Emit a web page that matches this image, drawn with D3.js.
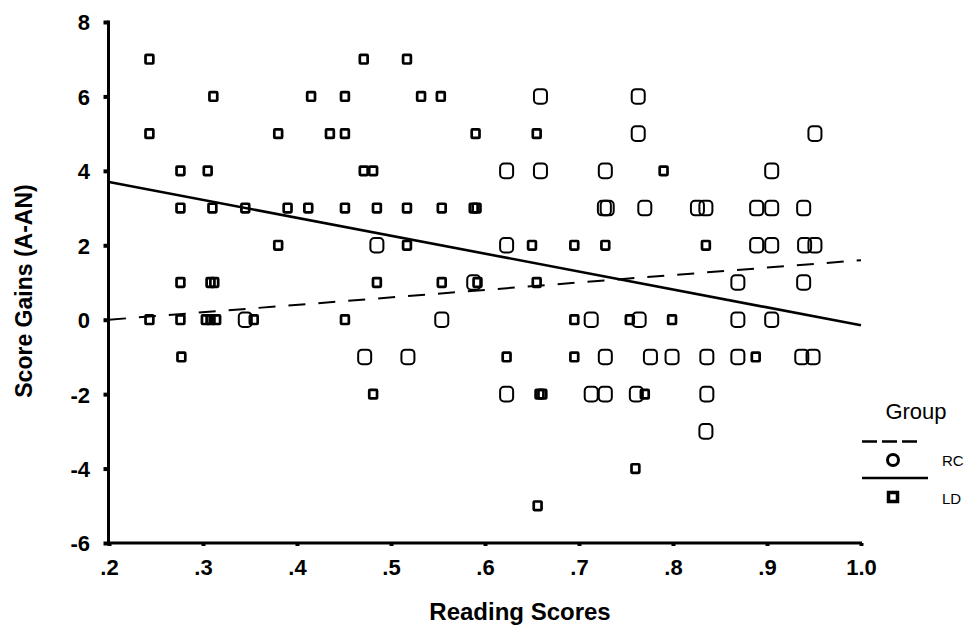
<!DOCTYPE html>
<html><head><meta charset="utf-8">
<script src="https://cdn.jsdelivr.net/npm/d3@7"></script>
<style>body{margin:0;background:#fff;} svg{display:block;}</style>
</head><body><svg id="c" width="975" height="625"></svg>
<script>
// ---- data ----
const xTickValues = [0.2,0.3,0.4,0.5,0.6,0.7,0.8,0.9,1.0];
const xTickLabels = [".2",".3",".4",".5",".6",".7",".8",".9","1.0"];
const yTickValues = [8,6,4,2,0,-2,-4,-6];

// LD group (small squares)
const ldScores = [
  0.243,0.471,0.517,
  0.311,0.415,0.451,0.532,0.553,
  0.243,0.380,0.435,0.451,0.590,0.655,
  0.276,0.305,0.471,0.481,0.790,
  0.276,0.310,0.345,0.390,0.412,0.451,0.485,0.517,0.554,0.588,0.591,
  0.380,0.517,0.650,0.695,0.728,0.835,
  0.276,0.308,0.312,0.485,0.554,0.592,0.655,
  0.243,0.276,0.303,0.308,0.314,0.354,0.451,0.695,0.754,0.799,
  0.277,0.623,0.695,0.888,
  0.481,0.658,0.661,0.770,
  0.760,
  0.656
];
const ldGains = [
  7,7,7,
  6,6,6,6,6,
  5,5,5,5,5,5,
  4,4,4,4,4,
  3,3,3,3,3,3,3,3,3,3,3,
  2,2,2,2,2,2,
  1,1,1,1,1,1,1,
  0,0,0,0,0,0,0,0,0,0,
  -1,-1,-1,-1,
  -2,-2,-2,-2,
  -4,
  -5
];
// RC group (larger rounded markers)
const rcScores = [
  0.659,0.763,
  0.763,0.951,
  0.623,0.659,0.728,0.905,
  0.727,0.730,0.770,0.826,0.835,0.889,0.905,0.939,
  0.485,0.623,0.889,0.905,0.940,0.951,
  0.588,0.869,0.939,
  0.345,0.554,0.713,0.764,0.869,0.905,
  0.472,0.518,0.728,0.776,0.799,0.836,0.869,0.937,0.949,
  0.623,0.713,0.728,0.761,0.836,
  0.835
];
const rcGains = [
  6,6,
  5,5,
  4,4,4,4,
  3,3,3,3,3,3,3,3,
  2,2,2,2,2,2,
  1,1,1,
  0,0,0,0,0,0,
  -1,-1,-1,-1,-1,-1,-1,-1,-1,
  -2,-2,-2,-2,-2,
  -3
];
// fit lines (value at x = 0.2 and x = 1.0)
const fitX = [0.2, 1.0];
const rcFit = [0.0, 1.6];    // dashed
const ldFit = [3.7, -0.15];  // solid
const groups = ["RC","LD"];

// ---- drawing ----
const svg = d3.select("#c");
const FONT = "'Liberation Sans', Arial, Helvetica, sans-serif";
const x = d3.scaleLinear().domain([0.2,1.0]).range([109,861]);
const y = d3.scaleLinear().domain([-6,8]).range([543,22]);

// fit lines
const line = d3.line().x(d=>x(d[0])).y(d=>y(d[1]));
svg.append("path").datum(fitX.map((v,i)=>[v, rcFit[i]]))
  .attr("d", line).attr("fill","none").attr("stroke","#000")
  .attr("stroke-width",2).attr("stroke-dasharray","17,13");
svg.append("path").datum(fitX.map((v,i)=>[v, ldFit[i]]))
  .attr("d", line).attr("fill","none").attr("stroke","#000")
  .attr("stroke-width",2.6);

// points
const ld = ldScores.map((v,i)=>({x:v, y:ldGains[i]}));
const rc = rcScores.map((v,i)=>({x:v, y:rcGains[i]}));
svg.append("g").selectAll("rect").data(rc).join("rect")
  .attr("x", d=>x(d.x)-6.5).attr("y", d=>y(d.y)-7.3)
  .attr("width",13).attr("height",14.6).attr("rx",4).attr("ry",4)
  .attr("fill","none").attr("stroke","#000").attr("stroke-width",2);
svg.append("g").selectAll("rect").data(ld).join("rect")
  .attr("x", d=>x(d.x)-3.9).attr("y", d=>y(d.y)-4.3)
  .attr("width",7.8).attr("height",8.6).attr("rx",0.8)
  .attr("fill","none").attr("stroke","#000").attr("stroke-width",2.7);

// axes
const gy = svg.append("g").attr("transform","translate(108.5,0)")
  .call(d3.axisLeft(y).tickValues(yTickValues).tickSize(5).tickPadding(13.5).tickFormat(d3.format("d")));
gy.select(".domain").attr("stroke","#000").attr("stroke-width",3).attr("d","M0,20.5V544.5");
gy.selectAll(".tick line").attr("stroke","#000").attr("stroke-width",4);
gy.selectAll(".tick text").attr("font-family",FONT).attr("font-size",22)
  .attr("font-weight","bold").attr("fill","#000").attr("dy","0.36em")
  .text(d=> d<0 ? "-"+Math.abs(d) : d);

const gx = svg.append("g").attr("transform","translate(0,543)")
  .call(d3.axisBottom(x).tickValues(xTickValues).tickSize(3).tickFormat((d,i)=>xTickLabels[i]));
gx.select(".domain").attr("stroke","#000").attr("stroke-width",3).attr("d","M107,0H862");
gx.selectAll(".tick line").attr("stroke","#000").attr("stroke-width",4);
gx.selectAll(".tick text").attr("font-family",FONT).attr("font-size",22)
  .attr("font-weight","bold").attr("fill","#000").attr("y",32).attr("dy",0);

// titles
svg.append("text").attr("transform","translate(32,291) rotate(-90)")
  .attr("text-anchor","middle").attr("font-family",FONT).attr("font-size",23)
  .attr("font-weight","bold").text("Score Gains (A-AN)");
svg.append("text").attr("x",520).attr("y",620)
  .attr("text-anchor","middle").attr("font-family",FONT).attr("font-size",24)
  .attr("font-weight","bold").text("Reading Scores");

// legend
const lg = svg.append("g");
lg.append("text").attr("x",916).attr("y",419).attr("text-anchor","middle")
  .attr("font-family",FONT).attr("font-size",22).text("Group");
lg.append("line").attr("x1",862).attr("x2",918).attr("y1",441.5).attr("y2",441.5)
  .attr("stroke","#000").attr("stroke-width",2.5).attr("stroke-dasharray","15,5");
lg.append("circle").attr("cx",893).attr("cy",460).attr("r",5.5)
  .attr("fill","none").attr("stroke","#000").attr("stroke-width",3);
lg.append("line").attr("x1",862).attr("x2",928).attr("y1",478).attr("y2",478)
  .attr("stroke","#000").attr("stroke-width",2.5);
lg.append("rect").attr("x",888.5).attr("y",492.5).attr("width",9).attr("height",9)
  .attr("fill","none").attr("stroke","#000").attr("stroke-width",3.5);
lg.selectAll("text.lab").data(groups).join("text").attr("class","lab")
  .attr("x",942).attr("y",(d,i)=> i===0 ? 466 : 504)
  .attr("font-family",FONT).attr("font-size",15).text(d=>d);
</script></body></html>
